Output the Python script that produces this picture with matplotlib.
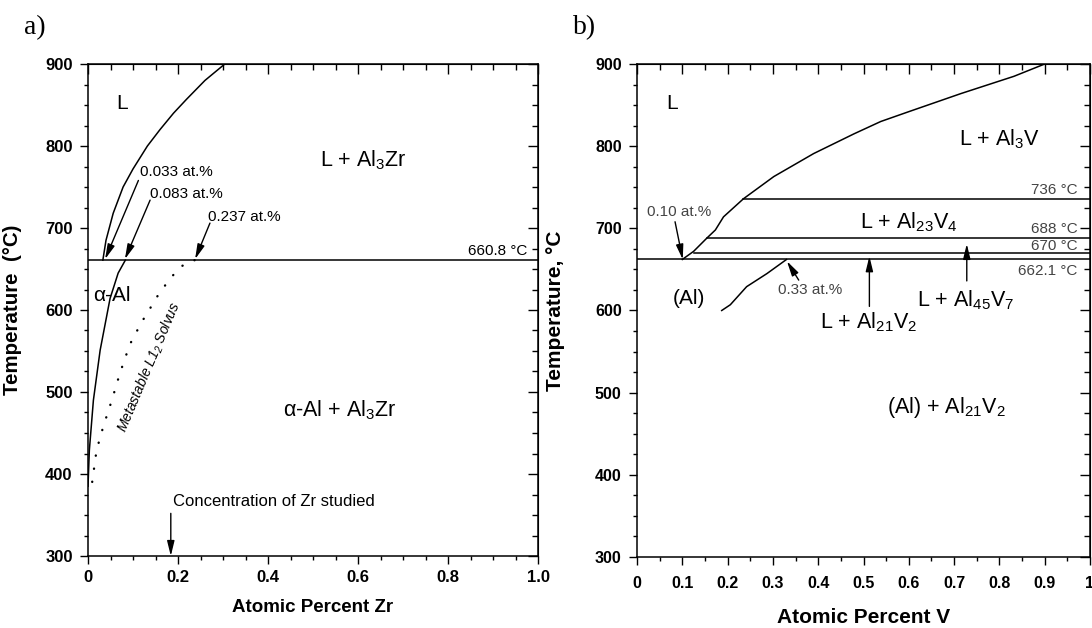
import matplotlib
matplotlib.use("Agg")
import matplotlib.pyplot as plt
from matplotlib.ticker import MultipleLocator, FuncFormatter

plt.rcParams['font.family'] = ['Liberation Sans', 'DejaVu Sans']
plt.rcParams['mathtext.fontset'] = 'custom'
plt.rcParams['mathtext.rm'] = 'Liberation Sans'
plt.rcParams['mathtext.it'] = 'Liberation Sans:italic'
plt.rcParams['mathtext.bf'] = 'Liberation Sans:bold'
plt.rcParams['mathtext.default'] = 'regular'

# ---- a) Al-Zr ----
zr_liq_x = [0.033, 0.040, 0.056, 0.078, 0.100, 0.132, 0.160, 0.190, 0.219, 0.260, 0.304]
zr_liq_T = [660.8, 685, 718, 750, 772, 800, 820, 840, 857, 880, 900]
zr_sol_x = [0.083, 0.067, 0.049, 0.027, 0.012, 0.003, 0.0]
zr_sol_T = [660.8, 645, 614, 551, 490, 429, 385]
zr_meta_x = [0.237, 0.210, 0.190, 0.160, 0.138, 0.119, 0.093, 0.071, 0.053, 0.034, 0.019, 0.008]
zr_meta_T = [660.8, 654, 643, 622, 602, 585, 558, 523, 490, 458, 429, 385]
zr_eutectic = 660.8
zr_studied = 0.184

# ---- b) Al-V ----
v_liq_x = [0.10, 0.125, 0.154, 0.173, 0.191, 0.235, 0.302, 0.39, 0.479, 0.538, 0.60, 0.715, 0.832, 0.90]
v_liq_T = [662.1, 672, 688, 698, 714, 736, 763, 791, 815, 830, 842, 864, 885, 900]
v_sol_x = [0.33, 0.287, 0.242, 0.206, 0.187]
v_sol_T = [662.1, 645, 629, 607, 600]
v_iso_T = [736, 688, 670, 662.1]
v_iso_start = [0.235, 0.154, 0.125, 0.0]
v_iso_lbl = ["736 °C", "688 °C", "670 °C", "662.1 °C"]
v_iso_lbl_T = [747, 699, 678, 648.5]

fig = plt.figure(figsize=(10.92, 6.28), dpi=100)
axa = fig.add_axes([88 / 1092, 1 - 556 / 628, 450 / 1092, 492 / 628])
axb = fig.add_axes([637 / 1092, 1 - 557 / 628, 453 / 1092, 493 / 628])


def style_axes(ax, xmaj, xmin, fmt, fs, xpad):
    ax.set_xlim(0, 1)
    ax.set_ylim(300, 900)
    ax.xaxis.set_major_locator(MultipleLocator(xmaj))
    ax.xaxis.set_minor_locator(MultipleLocator(xmin))
    ax.yaxis.set_major_locator(MultipleLocator(100))
    ax.yaxis.set_minor_locator(MultipleLocator(25))
    ax.xaxis.set_major_formatter(FuncFormatter(fmt))
    for s in ax.spines.values():
        s.set_linewidth(1.1)
    ax.tick_params(which='both', direction='out', width=1.0, labelsize=fs)
    ax.tick_params(which='major', length=6)
    ax.tick_params(which='minor', length=3)
    ax.tick_params(axis='x', pad=xpad)
    ax.tick_params(axis='y', pad=5)
    for lab in ax.get_xticklabels() + ax.get_yticklabels():
        lab.set_fontweight('bold')
    # mirrored inward ticks on top and right
    top = ax.secondary_xaxis('top')
    top.xaxis.set_major_locator(MultipleLocator(xmaj))
    top.xaxis.set_minor_locator(MultipleLocator(xmin))
    top.tick_params(which='both', direction='in', width=1.0, labeltop=False)
    top.tick_params(which='major', length=7)
    top.tick_params(which='minor', length=4)
    right = ax.secondary_yaxis('right')
    right.yaxis.set_major_locator(MultipleLocator(100))
    right.yaxis.set_minor_locator(MultipleLocator(25))
    right.tick_params(which='both', direction='in', width=1.0, labelright=False)
    right.tick_params(which='major', length=7)
    right.tick_params(which='minor', length=4)


style_axes(axa, 0.2, 0.05, lambda v, p: "0" if v == 0 else f"{v:.1f}", 12, 4)
style_axes(axb, 0.1, 0.05, lambda v, p: f"{v:g}", 11.5, 8)

arrow = dict(arrowstyle='-|>,head_length=0.9,head_width=0.22', color='k', lw=1.0,
             shrinkA=0, shrinkB=0)

# ---- panel a ----
axa.plot(zr_liq_x, zr_liq_T, color='k', lw=1.1)
axa.plot(zr_sol_x, zr_sol_T, color='k', lw=1.1)
axa.plot(zr_meta_x, zr_meta_T, color='k', lw=1.7, linestyle=(0, (0.1, 5.5)),
         dash_capstyle='round')
axa.axhline(zr_eutectic, color='k', lw=1.1)

axa.text(0.976, 663, "660.8 °C", ha='right', va='bottom', fontsize=11)
axa.text(0.075, 852, "L", ha='center', va='center', fontsize=15)
axa.text(0.613, 783, "L + Al$_3$Zr", ha='center', va='center', fontsize=15.5)
axa.text(0.053, 618, "α-Al", ha='center', va='center', fontsize=15)
axa.text(0.56, 478, "α-Al + Al$_3$Zr", ha='center', va='center', fontsize=15.5)
axa.text(0.136, 530, "Metastable L1$_2$ Solvus", ha='center', va='center',
         fontsize=10, style='italic', rotation=67, rotation_mode='anchor')

axa.text(0.116, 768, "0.033 at.%", ha='left', va='center', fontsize=11)
axa.annotate("", xy=(0.038, 662), xytext=(0.112, 758), arrowprops=arrow)
axa.text(0.138, 741, "0.083 at.%", ha='left', va='center', fontsize=11)
axa.annotate("", xy=(0.082, 662), xytext=(0.138, 734), arrowprops=arrow)
axa.text(0.267, 714, "0.237 at.%", ha='left', va='center', fontsize=11)
axa.annotate("", xy=(0.238, 662), xytext=(0.271, 706), arrowprops=arrow)

axa.text(0.412, 366, "Concentration of Zr studied", ha='center', va='center', fontsize=12)
axa.annotate("", xy=(zr_studied, 300), xytext=(zr_studied, 352), arrowprops=arrow)

axa.set_xlabel("Atomic Percent Zr", fontsize=13.5, fontweight='bold', labelpad=10)
axa.set_ylabel("Temperature  (°C)", fontsize=14.8, fontweight='bold')
axa.yaxis.set_label_coords(-0.147, 0.5)

# ---- panel b ----
axb.plot(v_liq_x, v_liq_T, color='k', lw=1.1)
axb.plot(v_sol_x, v_sol_T, color='k', lw=1.1)
for T, x0 in zip(v_iso_T, v_iso_start):
    axb.plot([x0, 1.0], [T, T], color='k', lw=1.1)
for lbl, T in zip(v_iso_lbl, v_iso_lbl_T):
    axb.text(0.973, T, lbl, ha='right', va='center', fontsize=11, color='#444444')

axb.text(0.077, 852, "L", ha='center', va='center', fontsize=15)
axb.text(0.80, 808, "L + Al$_3$V", ha='center', va='center', fontsize=15.5)
axb.text(0.599, 708, "L + Al$_{23}$V$_4$", ha='center', va='center', fontsize=15.5)
axb.text(0.114, 615, "(Al)", ha='center', va='center', fontsize=15)
axb.text(0.511, 586, "L + Al$_{21}$V$_2$", ha='center', va='center', fontsize=15.5)
axb.annotate("", xy=(0.513, 666), xytext=(0.513, 605), arrowprops=arrow)
axb.text(0.725, 613, "L + Al$_{45}$V$_7$", ha='center', va='center', fontsize=15.5)
axb.annotate("", xy=(0.728, 681), xytext=(0.728, 636), arrowprops=arrow)
axb.text(0.682, 482, "(Al) + Al$_{21}$V$_2$", ha='center', va='center', fontsize=15.5)

axb.text(0.093, 720, "0.10 at.%", ha='center', va='center', fontsize=11, color='#444444')
axb.annotate("", xy=(0.101, 662), xytext=(0.084, 708), arrowprops=arrow)
axb.text(0.383, 625, "0.33 at.%", ha='center', va='center', fontsize=11, color='#444444')
axb.annotate("", xy=(0.331, 660), xytext=(0.357, 637), arrowprops=arrow)

axb.set_xlabel("Atomic Percent V", fontsize=15, fontweight='bold', labelpad=12)
axb.set_ylabel("Temperature, °C", fontsize=15, fontweight='bold')
axb.yaxis.set_label_coords(-0.159, 0.5)

fig.text(35 / 1092, 1 - 28 / 628, "a)", family='Liberation Serif', fontsize=20,
         ha='center', va='center')
fig.text(585 / 1092, 1 - 28 / 628, "b)", family='Liberation Serif', fontsize=20,
         ha='center', va='center')

fig.savefig("out.png", dpi=100)
